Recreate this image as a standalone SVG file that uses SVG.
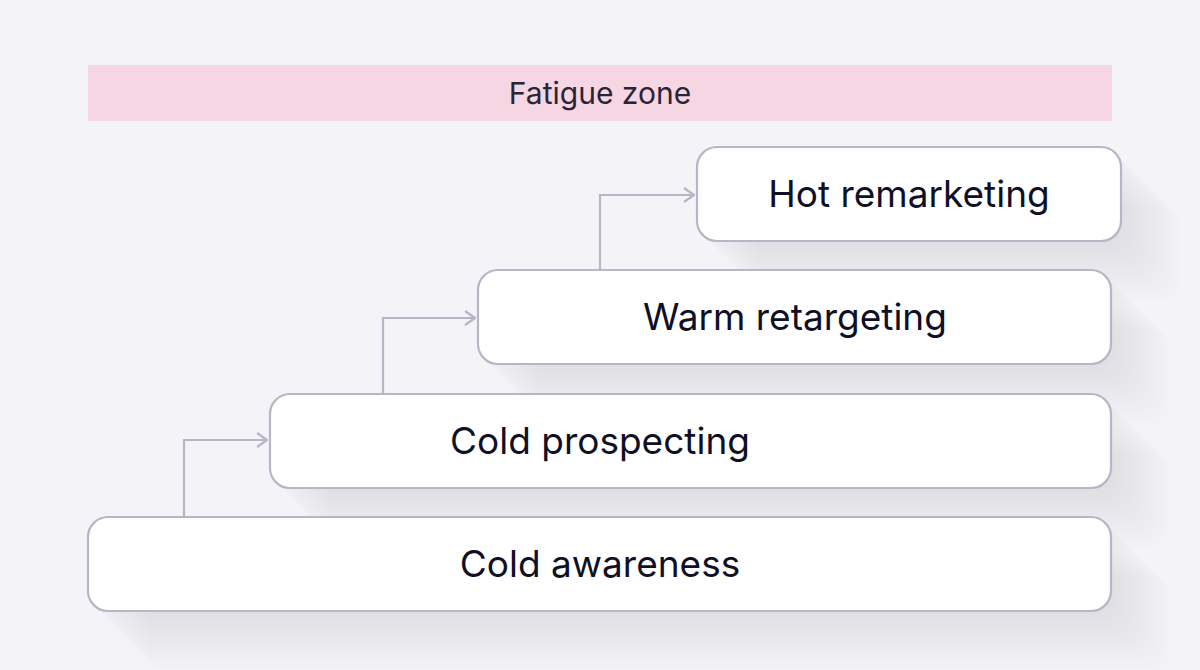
<svg xmlns="http://www.w3.org/2000/svg" width="1200" height="670" viewBox="0 0 1200 670">
  <style>
    .box { fill: #ffffff; stroke: #b6b6c6; stroke-width: 2.2; }
    .sh { fill: #5a5a78; fill-opacity: 0.007; }
    .lbl { font-family: Inter, "Liberation Sans", sans-serif; font-size: 37px; font-weight: 400; fill: #0f0f26; text-anchor: middle; }
    .zone { font-family: Inter, "Liberation Sans", sans-serif; font-size: 30px; font-weight: 400; fill: #2a2438; text-anchor: middle; }
    .conn { fill: none; stroke: #b6b6c6; stroke-width: 2.2; }
  </style>
  <defs>
    <marker id="arr" viewBox="0 0 12 16" refX="11" refY="8" markerWidth="12" markerHeight="16" markerUnits="userSpaceOnUse" orient="auto">
      <path d="M1,1 L11,8 L1,15" fill="none" stroke="#b6b6c6" stroke-width="2.2"/>
    </marker>
    <rect id="s1" x="88" y="517" width="1023" height="94" rx="20"/>
    <rect id="s2" x="270" y="394" width="841" height="94" rx="20"/>
    <rect id="s3" x="478" y="270" width="633" height="94" rx="20"/>
    <rect id="s4" x="697" y="147" width="424" height="94" rx="20"/>
  </defs>
  <rect width="1200" height="670" fill="#f3f3f8"/>

  <g id="fatigue-zone">
    <rect x="88" y="65" width="1024" height="56" fill="#f5d6e2"/>
    <text class="zone" x="600" y="104">Fatigue zone</text>
  </g>

  <g id="shadows" class="sh">
    <g id="shadow-1">
      <use href="#s1" x="3" y="3"/><use href="#s1" x="6" y="6"/><use href="#s1" x="9" y="9"/><use href="#s1" x="12" y="12"/><use href="#s1" x="15" y="15"/><use href="#s1" x="18" y="18"/><use href="#s1" x="21" y="21"/><use href="#s1" x="24" y="24"/><use href="#s1" x="27" y="27"/><use href="#s1" x="30" y="30"/><use href="#s1" x="33" y="33"/><use href="#s1" x="36" y="36"/><use href="#s1" x="39" y="39"/><use href="#s1" x="42" y="42"/><use href="#s1" x="45" y="45"/><use href="#s1" x="48" y="48"/><use href="#s1" x="51" y="51"/><use href="#s1" x="54" y="54"/><use href="#s1" x="57" y="57"/><use href="#s1" x="60" y="60"/>
    </g>
    <g id="shadow-2">
      <use href="#s2" x="3" y="3"/><use href="#s2" x="6" y="6"/><use href="#s2" x="9" y="9"/><use href="#s2" x="12" y="12"/><use href="#s2" x="15" y="15"/><use href="#s2" x="18" y="18"/><use href="#s2" x="21" y="21"/><use href="#s2" x="24" y="24"/><use href="#s2" x="27" y="27"/><use href="#s2" x="30" y="30"/><use href="#s2" x="33" y="33"/><use href="#s2" x="36" y="36"/><use href="#s2" x="39" y="39"/><use href="#s2" x="42" y="42"/><use href="#s2" x="45" y="45"/><use href="#s2" x="48" y="48"/><use href="#s2" x="51" y="51"/><use href="#s2" x="54" y="54"/><use href="#s2" x="57" y="57"/><use href="#s2" x="60" y="60"/>
    </g>
    <g id="shadow-3">
      <use href="#s3" x="3" y="3"/><use href="#s3" x="6" y="6"/><use href="#s3" x="9" y="9"/><use href="#s3" x="12" y="12"/><use href="#s3" x="15" y="15"/><use href="#s3" x="18" y="18"/><use href="#s3" x="21" y="21"/><use href="#s3" x="24" y="24"/><use href="#s3" x="27" y="27"/><use href="#s3" x="30" y="30"/><use href="#s3" x="33" y="33"/><use href="#s3" x="36" y="36"/><use href="#s3" x="39" y="39"/><use href="#s3" x="42" y="42"/><use href="#s3" x="45" y="45"/><use href="#s3" x="48" y="48"/><use href="#s3" x="51" y="51"/><use href="#s3" x="54" y="54"/><use href="#s3" x="57" y="57"/><use href="#s3" x="60" y="60"/>
    </g>
    <g id="shadow-4">
      <use href="#s4" x="3" y="3"/><use href="#s4" x="6" y="6"/><use href="#s4" x="9" y="9"/><use href="#s4" x="12" y="12"/><use href="#s4" x="15" y="15"/><use href="#s4" x="18" y="18"/><use href="#s4" x="21" y="21"/><use href="#s4" x="24" y="24"/><use href="#s4" x="27" y="27"/><use href="#s4" x="30" y="30"/><use href="#s4" x="33" y="33"/><use href="#s4" x="36" y="36"/><use href="#s4" x="39" y="39"/><use href="#s4" x="42" y="42"/><use href="#s4" x="45" y="45"/><use href="#s4" x="48" y="48"/><use href="#s4" x="51" y="51"/><use href="#s4" x="54" y="54"/><use href="#s4" x="57" y="57"/><use href="#s4" x="60" y="60"/>
    </g>
  </g>

  <g id="connectors">
    <path class="conn" d="M184,517 V440 H267" marker-end="url(#arr)"/>
    <path class="conn" d="M383,394 V318 H475" marker-end="url(#arr)"/>
    <path class="conn" d="M600,270 V195 H694" marker-end="url(#arr)"/>
  </g>

  <g id="node-cold-awareness">
    <rect class="box" x="88" y="517" width="1023" height="94" rx="20"/>
    <text class="lbl" x="600" y="577">Cold awareness</text>
  </g>
  <g id="node-cold-prospecting">
    <rect class="box" x="270" y="394" width="841" height="94" rx="20"/>
    <text class="lbl" x="600" y="454">Cold prospecting</text>
  </g>
  <g id="node-warm-retargeting">
    <rect class="box" x="478" y="270" width="633" height="94" rx="20"/>
    <text class="lbl" x="795" y="330">Warm retargeting</text>
  </g>
  <g id="node-hot-remarketing">
    <rect class="box" x="697" y="147" width="424" height="94" rx="20"/>
    <text class="lbl" x="909" y="207">Hot remarketing</text>
  </g>
</svg>
